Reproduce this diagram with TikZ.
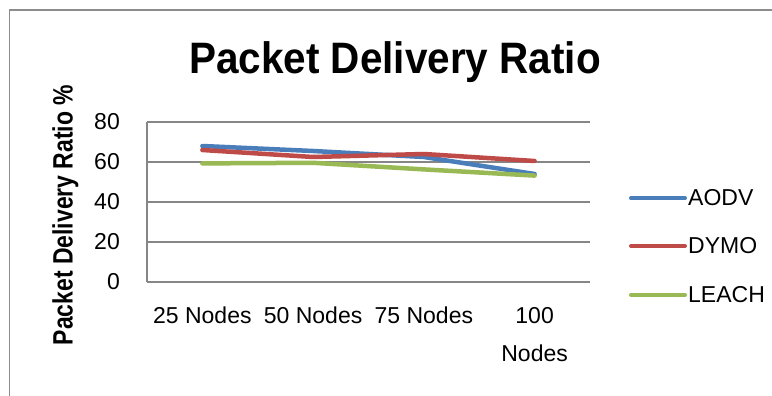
\documentclass[tikz,border=0pt]{standalone}
\usepackage{fontspec}
\setmainfont{Liberation Sans}
\definecolor{gridGrey}{HTML}{868686}
\definecolor{frameGrey}{HTML}{8C8C8C}
\definecolor{aodvBlue}{HTML}{4A7EBB}
\definecolor{dymoRed}{HTML}{BE4B48}
\definecolor{leachGreen}{HTML}{98B954}
\newcommand{\narrowText}[2]{\scalebox{#1}[1]{#2}}

\begin{document}
\begin{tikzpicture}[%%
  x=1pt,y=-1pt,%%
  frameStyle/.style={draw=frameGrey,line width=1.5pt},%%
  gridStyle/.style={draw=gridGrey,line width=1.2pt},%%
  seriesStyle/.style={line width=4.5pt,line cap=round,line join=round},%%
  keyStyle/.style={line width=4pt,line cap=round},%%
  tickStyle/.style={font=\fontsize{23}{27}\selectfont,inner sep=0pt},%%
  titleStyle/.style={font=\fontsize{44}{50}\selectfont\bfseries,inner sep=0pt,anchor=base}%%
]
%%
%%
\pgfmathsetmacro{\xlow}{147}      %% Left edge of the plot area.
\pgfmathsetmacro{\xhigh}{590}     %% Right edge of the plot area.
\pgfmathsetmacro{\ybase}{282}     %% Height of the zero line.
\pgfmathsetmacro{\unit}{2}        %% Points per percent.
\pgfmathsetmacro{\catwidth}{110.75}
\useasboundingbox (0,0) rectangle (772,396);
%%
%% The frame round the chart.
\coordinate (frameBL) at (9.5,400);
\coordinate (frameTL) at (9.5,10);
\coordinate (frameTR) at (780,10);
\draw[frameStyle] (frameBL) -- (frameTL) -- (frameTR);
%%
%% Gridlines and value labels.
\foreach \v in {0,20,40,60,80}{%%
  \coordinate (gridL\v) at (\xlow,{\ybase-\unit*\v});
  \coordinate (gridR\v) at (\xhigh,{\ybase-\unit*\v});
  \draw[gridStyle] (gridL\v) -- (gridR\v);
  \node[tickStyle,anchor=east] (tick\v) at ([xshift=-27pt]gridL\v) {\v};
}
\draw[gridStyle] (gridL0) -- (gridL80);
%%
%% Category labels.
\foreach \i/\lbl in {1/25 Nodes,2/50 Nodes,3/75 Nodes}
  \node[tickStyle,anchor=base] (cat\i) at ({\xlow+\catwidth*(\i-0.5)},323.3) {\lbl};
\node[tickStyle,anchor=base,align=center,font=\fontsize{23}{38.4}\selectfont]
  (cat4) at ({\xlow+\catwidth*3.5},361.7) {100\\Nodes};
%%
%% The three series.
\foreach \i/\v in {1/68,2/65.5,3/62.5,4/54}
  \coordinate (aodv\i) at ({\xlow+\catwidth*(\i-0.5)},{\ybase-\unit*\v});
\foreach \i/\v in {1/66,2/62.5,3/64,4/60.5}
  \coordinate (dymo\i) at ({\xlow+\catwidth*(\i-0.5)},{\ybase-\unit*\v});
\foreach \i/\v in {1/59.3,2/59.6,3/56.3,4/53.2}
  \coordinate (leach\i) at ({\xlow+\catwidth*(\i-0.5)},{\ybase-\unit*\v});
\draw[seriesStyle,aodvBlue] (aodv1) -- (aodv2) -- (aodv3) -- (aodv4);
\draw[seriesStyle,dymoRed] (dymo1) -- (dymo2) -- (dymo3) -- (dymo4);
\draw[seriesStyle,leachGreen] (leach1) -- (leach2) -- (leach3) -- (leach4);
%%
%% Titles.
\node[titleStyle] (chartTitle) at (395,73.3) {\narrowText{0.92}{Packet Delivery Ratio}};
\node[font=\fontsize{28}{32}\selectfont\bfseries,inner sep=0pt,rotate=90,anchor=base]
  (valueTitle) at (72.7,215) {\narrowText{0.82}{Packet Delivery Ratio \%}};
%%
%% Legend.
\foreach \k/\lbl/\col/\yk in {aodv/AODV/aodvBlue/198.3,dymo/DYMO/dymoRed/246,leach/LEACH/leachGreen/295}{%%
  \coordinate (key\k A) at (631,\yk);
  \coordinate (key\k B) at (685,\yk);
  \draw[keyStyle,\col] (key\k A) -- (key\k B);
  \node[tickStyle,anchor=base west] (label\k) at (688,{\yk+7.3}) {\lbl};
}
\end{tikzpicture}
\end{document}
